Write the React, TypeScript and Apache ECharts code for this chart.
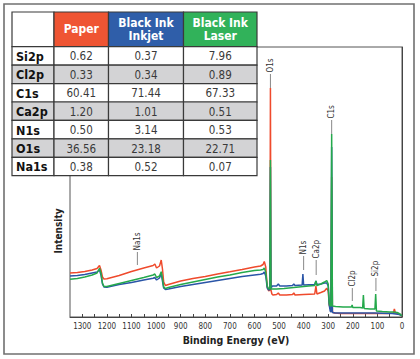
import React, { useEffect, useRef } from 'react';
import * as echarts from 'echarts';

const FONT = "'Liberation Sans Narrow', 'DejaVu Sans Condensed', 'Roboto Condensed', 'Liberation Sans', sans-serif";

// ---- Table data ----
const tableElements = ['Si2p', 'Cl2p', 'C1s', 'Ca2p', 'N1s', 'O1s', 'Na1s'];
const paperValues = [0.62, 0.33, 60.41, 1.2, 0.5, 36.56, 0.38];
const inkjetValues = [0.37, 0.34, 71.44, 1.01, 3.14, 23.18, 0.52];
const laserValues = [7.96, 0.89, 67.33, 0.51, 0.53, 22.71, 0.07];
const tableHeaders = ['Paper', 'Black Ink\nInkjet', 'Black Ink\nLaser'];

// ---- Spectrum data [binding energy (eV), intensity (a.u.)] ----
const paperSpectrum: number[][] = [
  [1350, 44], [1320, 44.5], [1290, 45.5], [1260, 47], [1240, 48.5], [1230, 51.5], [1224, 47], [1218, 40],
  [1212, 38], [1200, 38.2], [1150, 41.5], [1100, 45.5], [1050, 49], [1012, 51.5], [1005, 53], [998, 49],
  [986, 51], [979, 57], [974, 48], [969, 35], [962, 31.5], [950, 32.5], [900, 36], [850, 38.5], [800, 40.5],
  [750, 43], [700, 45.2], [650, 47.5], [600, 50], [575, 51], [565, 52.5], [560, 55.5], [554, 50], [548, 30],
  [542, 26], [537, 27], [535, 229], [533, 27], [529, 23], [525, 22], [510, 22.5], [503, 24], [497, 22],
  [470, 22], [445, 22.5], [440, 24], [435, 22], [400, 22.5], [355, 23], [350, 31], [346, 23], [330, 24.5],
  [315, 26], [306, 28.7], [300, 26], [296, 12], [292, 9], [289, 8], [286, 140], [283, 5], [275, 4],
  [250, 3.5], [200, 3.5], [150, 3.5], [110, 3.5], [60, 3.5], [35, 4], [31, 8], [27, 4], [15, 3.5], [5, 2], [0, 0.5],
];
const inkjetSpectrum: number[][] = [
  [1350, 41], [1320, 41.5], [1290, 42.5], [1260, 44], [1240, 45], [1230, 47], [1224, 42], [1218, 33],
  [1212, 30], [1200, 29.8], [1150, 32.5], [1100, 34.5], [1050, 37], [1012, 38.7], [1005, 39.5], [998, 37],
  [986, 39], [979, 43.7], [974, 36], [969, 29], [962, 27.5], [950, 28], [900, 30.5], [850, 32.5], [800, 34.5],
  [750, 36.5], [700, 38.5], [650, 40.5], [600, 42], [575, 42.7], [565, 43.5], [560, 45], [554, 41], [548, 29],
  [542, 27], [537, 27.5], [535, 150], [533, 29], [527, 31], [510, 31], [503, 33], [497, 31], [470, 31],
  [445, 31.5], [440, 33], [435, 31.5], [406, 32], [403, 43], [400, 32], [355, 32.5], [350, 36], [346, 32.5],
  [330, 33], [315, 34], [306, 34], [300, 31], [296, 12], [292, 6], [289, 5], [286, 170], [283, 4.5],
  [270, 4], [200, 4], [150, 4], [110, 4], [80, 3.8], [40, 3.5], [10, 2.5], [0, 1],
];
const laserSpectrum: number[][] = [
  [1350, 37.7], [1320, 38.5], [1290, 40], [1260, 42], [1240, 44], [1230, 48.7], [1224, 44], [1218, 34],
  [1212, 30.5], [1200, 30.5], [1150, 33.5], [1100, 36.5], [1050, 39.5], [1012, 42], [1005, 43], [998, 39.5],
  [986, 41], [979, 45.3], [974, 38], [969, 30], [962, 28.5], [950, 29.5], [900, 32.5], [850, 35], [800, 37.5],
  [750, 40], [700, 42], [650, 44.5], [600, 46.5], [575, 47], [565, 47.5], [560, 49], [554, 45], [548, 31],
  [542, 28], [537, 28.5], [535, 157], [533, 28], [527, 28], [510, 28], [480, 28.5], [440, 29.5], [400, 30.5],
  [380, 31], [355, 31.5], [350, 36], [346, 31.5], [330, 33], [315, 35], [306, 36.5], [300, 33], [296, 14],
  [292, 11], [289, 11], [286, 183], [283, 11], [270, 10.5], [240, 10], [205, 10], [203, 12], [200, 9.5],
  [170, 9.5], [160, 9], [157, 22], [154, 8.5], [130, 8], [110, 8], [107, 23], [104, 6], [80, 5.5], [50, 5],
  [35, 5], [20, 4.5], [8, 3], [0, 1],
];

// ---- Peak annotations ----
const peakLabels = ['O1s', 'C1s', 'N1s', 'Ca2p', 'Cl2p', 'Si2p', 'Na1s'];
const peakEnergy = [535, 286, 400, 349, 202, 106, 1076];
const leaderLow = [229, 183, 47, 42, 16, 26, 52];
const leaderHigh = [243, 197, 61, 57, 29, 39, 65];

const xTicks = { min: 0, max: 1350, interval: 50 };

const RED = '#EF4A2C';
const BLUE = '#2A55A7';
const GREEN = '#25A94C';
const HEAD_COLORS = ['#EF5533', '#2F5EA9', '#31B25A'];

function buildTable(): any[] {
  const colX = [12, 54, 108.5, 183.5, 257];
  const top = 12;
  const headBottom = 46.7;
  const rowH = 18.43;
  const els: any[] = [];
  const stroke = '#3a3a3a';
  els.push({ type: 'rect', shape: { x: colX[0], y: top, width: colX[1] - colX[0], height: headBottom - top }, style: { fill: '#fff', stroke, lineWidth: 1.2 }, z: 100 });
  tableHeaders.forEach((h, j) => {
    const x0 = colX[j + 1], x1 = colX[j + 2];
    els.push({ type: 'rect', shape: { x: x0, y: top, width: x1 - x0, height: headBottom - top }, style: { fill: HEAD_COLORS[j], stroke, lineWidth: 1.2 }, z: 100 });
    els.push({ type: 'text', x: (x0 + x1) / 2, y: (top + headBottom) / 2, style: { text: h, fill: '#fff', font: `bold 12px ${FONT}`, align: 'center', verticalAlign: 'middle', lineHeight: 13 }, z: 101 });
  });
  const cols = [paperValues, inkjetValues, laserValues];
  tableElements.forEach((name, i) => {
    const y0 = headBottom + i * rowH;
    const fill = i % 2 === 1 ? '#D3D3D5' : '#fff';
    for (let j = 0; j < 4; j++) {
      els.push({ type: 'rect', shape: { x: colX[j], y: y0, width: colX[j + 1] - colX[j], height: rowH }, style: { fill, stroke, lineWidth: 1.2 }, z: 100 });
    }
    els.push({ type: 'text', x: colX[0] + 4, y: y0 + rowH / 2 + 0.5, style: { text: name, fill: '#111', font: `bold 12.5px ${FONT}`, align: 'left', verticalAlign: 'middle' }, z: 101 });
    cols.forEach((vals, j) => {
      els.push({ type: 'text', x: (colX[j + 1] + colX[j + 2]) / 2, y: y0 + rowH / 2 + 0.5, style: { text: vals[i].toFixed(2), fill: '#3a3a3a', font: `11.5px ${FONT}`, align: 'center', verticalAlign: 'middle' }, z: 101 });
    });
  });
  return els;
}

export default function App() {
  const ref = useRef<HTMLDivElement>(null);
  useEffect(() => {
    const chart = echarts.init(ref.current!, null, { renderer: 'svg' });
    const lineSeries = (name: string, data: number[][], color: string, z: number) => ({
      name, type: 'line', data, showSymbol: false, symbol: 'none', z,
      lineStyle: { color, width: 1.5 }, itemStyle: { color }, animation: false,
    });
    chart.setOption({
      animation: false,
      backgroundColor: '#fff',
      grid: { left: 70, right: 18, top: 47, bottom: 42, show: true, borderColor: '#555', borderWidth: 1, backgroundColor: 'transparent' },
      xAxis: {
        type: 'value', inverse: true, min: xTicks.min, max: xTicks.max, interval: xTicks.interval,
        name: 'Binding Energy (eV)', nameLocation: 'middle', nameGap: 16,
        nameTextStyle: { fontFamily: FONT, fontWeight: 'bold', fontSize: 10.5, color: '#222' },
        axisLine: { lineStyle: { color: '#444', width: 1 } },
        axisTick: { inside: true, length: 3, lineStyle: { color: '#444' } },
        axisLabel: { fontFamily: FONT, fontSize: 8, color: '#333', margin: 5, showMaxLabel: false, formatter: (v: number) => (v % 100 === 0 ? String(v) : '') },
        splitLine: { show: false },
      },
      yAxis: {
        type: 'value', min: 0, max: 270,
        axisLine: { show: true, lineStyle: { color: '#444', width: 1 } },
        axisTick: { show: false }, axisLabel: { show: false }, splitLine: { show: false },
      },
      series: [
        lineSeries('Paper', paperSpectrum, RED, 2),
        lineSeries('Black Ink Inkjet', inkjetSpectrum, BLUE, 3),
        lineSeries('Black Ink Laser', laserSpectrum, GREEN, 4),
        {
          type: 'custom', z: 5,
          data: peakEnergy.map((e, i) => [e, leaderLow[i], leaderHigh[i]]),
          encode: { x: 0, y: [1, 2] },
          renderItem: (params: any, api: any) => {
            const i = params.dataIndex;
            const e = api.value(0);
            const lo = api.coord([e, api.value(1)]);
            const hi = api.coord([e, api.value(2)]);
            return {
              type: 'group',
              children: [
                { type: 'line', shape: { x1: lo[0], y1: lo[1], x2: hi[0], y2: hi[1] }, style: { stroke: '#888', lineWidth: 1 } },
                { type: 'text', x: hi[0], y: hi[1] - 1.5, rotation: Math.PI / 2, style: { text: peakLabels[i], fill: '#333', font: `8px ${FONT}`, align: 'left', verticalAlign: 'middle' } },
              ],
            };
          },
        },
      ],
      graphic: [
        { type: 'rect', shape: { x: 4, y: 4, width: 410, height: 350 }, style: { fill: 'none', stroke: '#707070', lineWidth: 1.6 }, z: 90 },
        { type: 'text', x: 58, y: 231, rotation: Math.PI / 2, style: { text: 'Intensity', fill: '#222', font: `bold 10px ${FONT}`, align: 'center', verticalAlign: 'middle' }, z: 90 },
        ...buildTable(),
      ],
    });
    return () => chart.dispose();
  }, []);
  return <div ref={ref} style={{ position: 'absolute', left: 0, top: 0, width: 420, height: 359 }} />;
}
